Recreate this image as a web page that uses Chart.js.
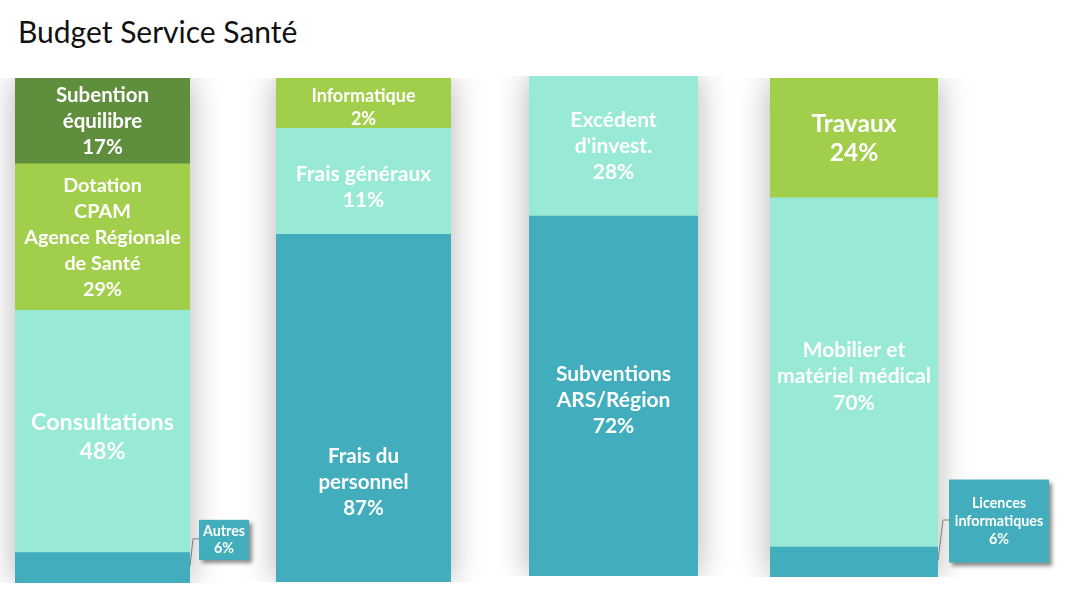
<!DOCTYPE html>
<html>
<head>
<meta charset="utf-8">
<script src="https://cdn.jsdelivr.net/npm/chart.js@4/dist/chart.umd.min.js"></script>
<style>
  html,body{margin:0;padding:0;background:#fff;}
  body{width:1070px;height:602px;position:relative;overflow:hidden;font-family:Lato,"Open Sans",sans-serif;}
  #title{position:absolute;left:18px;top:13px;font-family:Lato,sans-serif;font-size:30px;color:#111;white-space:nowrap;}
  canvas{position:absolute;top:0;}
</style>
</head>
<body>
<div id="title">Budget Service Santé</div>
<canvas id="c1"></canvas>
<canvas id="c2"></canvas>
<canvas id="c3"></canvas>
<canvas id="c4"></canvas>
<script>
// ---- DATA (segments listed bottom to top, values = share of bar height, labels = printed percentages) ----
const categories = ['Recettes de fonctionnement', 'Dépenses de fonctionnement', "Recettes d'investissement", "Dépenses d'investissement"];

const bar1Names  = ['Autres', 'Consultations', 'Dotation\nCPAM\nAgence Régionale\nde Santé', 'Subention\néquilibre'];
const bar1Values = [6, 48, 29, 17];
const bar1Labels = ['6%', '48%', '29%', '17%'];

const bar2Names  = ['Frais du\npersonnel', 'Frais généraux', 'Informatique'];
const bar2Values = [69, 21, 10];
const bar2Labels = ['87%', '11%', '2%'];

const bar3Names  = ['Subventions\nARS/Région', "Excédent\nd'invest."];
const bar3Values = [72, 28];
const bar3Labels = ['72%', '28%'];

const bar4Names  = ['Licences\ninformatiques', 'Mobilier et\nmatériel médical', 'Travaux'];
const bar4Values = [6, 70, 24];
const bar4Labels = ['6%', '70%', '24%'];

// ---- STYLE / LAYOUT ----
const TEAL = '#41ADBD', MINT = '#98E9D5', LGREEN = '#A2CF4B', DGREEN = '#5F8E3D';

const charts = [
  { id:'c1', left:0,   width:270, pad:{left:15, right:80,  top:78, bottom:19},
    names:bar1Names, values:bar1Values, labels:bar1Labels,
    colors:[TEAL, MINT, LGREEN, DGREEN],
    fonts:[14.3, 23.3, 19.8, 20.5], lh:[17, 29, 26, 26], dy:[0,5,1,0],
    callout:{index:0, dx:9, w:50, h:40, dy:-28, startDy:-1.5, elbowDx:3} },
  { id:'c2', left:226, width:275, pad:{left:50, right:50,  top:78, bottom:20},
    names:bar2Names, values:bar2Values, labels:bar2Labels,
    colors:[TEAL, MINT, LGREEN],
    fonts:[20.5, 21, 18], lh:[26, 26, 23], dy:[74, 6, 4] },
  { id:'c3', left:479, width:269, pad:{left:50, right:50,  top:76, bottom:26},
    names:bar3Names, values:bar3Values, labels:bar3Labels,
    colors:[TEAL, MINT],
    fonts:[21, 21], lh:[26, 26], dy:[4, 0] },
  { id:'c4', left:720, width:350, pad:{left:50, right:132, top:78, bottom:25},
    names:bar4Names, values:bar4Values, labels:bar4Labels,
    colors:[TEAL, MINT, LGREEN],
    fonts:[14.3, 21, 24.5], lh:[18, 26.5, 29], dy:[0, 4, 1],
    callout:{index:0, dx:11, w:100, h:83, dy:-41, startDy:-1.5, elbowDx:5} }
];

function makePlugin(cfg){
  return {
    id:'segLabels',
    beforeDatasetsDraw(chart){
      const {ctx, chartArea:a} = chart;
      ctx.save();
      ctx.beginPath();
      ctx.rect(0, a.top, chart.width, a.bottom - a.top);
      ctx.clip();
      ctx.shadowColor = 'rgba(0,0,0,0.30)';
      ctx.shadowBlur = 30;
      ctx.fillStyle = '#ffffff';
      ctx.fillRect(a.left, a.top, a.right - a.left, a.bottom - a.top);
      ctx.restore();
    },
    afterDatasetsDraw(chart){
      const {ctx} = chart;
      chart.data.datasets.forEach((ds, i) => {
        const el = chart.getDatasetMeta(i).data[0];
        if (!el) return;
        const top = Math.min(el.y, el.base), bot = Math.max(el.y, el.base);
        const right = el.x + el.width / 2;
        const cy = (top + bot) / 2;
        const lines = cfg.names[i].split('\n').concat([cfg.labels[i]]);
        const fs = cfg.fonts[i], lh = cfg.lh[i];
        let cx = el.x, ty = cy + cfg.dy[i];
        ctx.save();
        if (cfg.callout && cfg.callout.index === i) {
          const c = cfg.callout;
          const bx = right + c.dx, bcy = cy + c.dy, by = bcy - c.h / 2;
          ctx.strokeStyle = '#7f7f7f';
          ctx.lineWidth = 1;
          ctx.beginPath();
          ctx.moveTo(right, cy + c.startDy);
          ctx.lineTo(right + c.elbowDx, bcy - 1);
          ctx.lineTo(bx, bcy - 1);
          ctx.stroke();
          ctx.save();
          ctx.shadowColor = 'rgba(0,0,0,0.45)';
          ctx.shadowBlur = 4;
          ctx.shadowOffsetX = 3;
          ctx.shadowOffsetY = 3;
          ctx.fillStyle = cfg.colors[i];
          ctx.fillRect(bx, by, c.w, c.h);
          ctx.restore();
          cx = bx + c.w / 2;
          ty = bcy;
        }
        ctx.fillStyle = '#ffffff';
        ctx.font = 'bold ' + fs + 'px Lato, "Open Sans", sans-serif';
        ctx.textAlign = 'center';
        ctx.textBaseline = 'middle';
        const start = ty - (lines.length - 1) * lh / 2;
        lines.forEach((t, k) => ctx.fillText(t, cx, start + k * lh));
        ctx.restore();
      });
    }
  };
}

charts.forEach((cfg, n) => {
  const cv = document.getElementById(cfg.id);
  cv.width = cfg.width;
  cv.height = 602;
  cv.style.left = cfg.left + 'px';
  cv.style.width = cfg.width + 'px';
  cv.style.height = '602px';
  cv.style.zIndex = String(10 - n);
  new Chart(cv, {
    type: 'bar',
    data: {
      labels: [categories[n]],
      datasets: cfg.values.map((v, i) => ({
        label: cfg.names[i].replace(/\n/g, ' '),
        data: [v],
        backgroundColor: cfg.colors[i],
        borderWidth: 0,
        barPercentage: 1,
        categoryPercentage: 1
      }))
    },
    options: {
      responsive: false,
      animation: false,
      devicePixelRatio: 1,
      layout: { padding: cfg.pad },
      scales: {
        x: { stacked: true, display: false },
        y: { stacked: true, display: false, min: 0, max: 100 }
      },
      plugins: { legend: { display: false }, tooltip: { enabled: false } }
    },
    plugins: [makePlugin(cfg)]
  });
});
</script>
</body>
</html>
